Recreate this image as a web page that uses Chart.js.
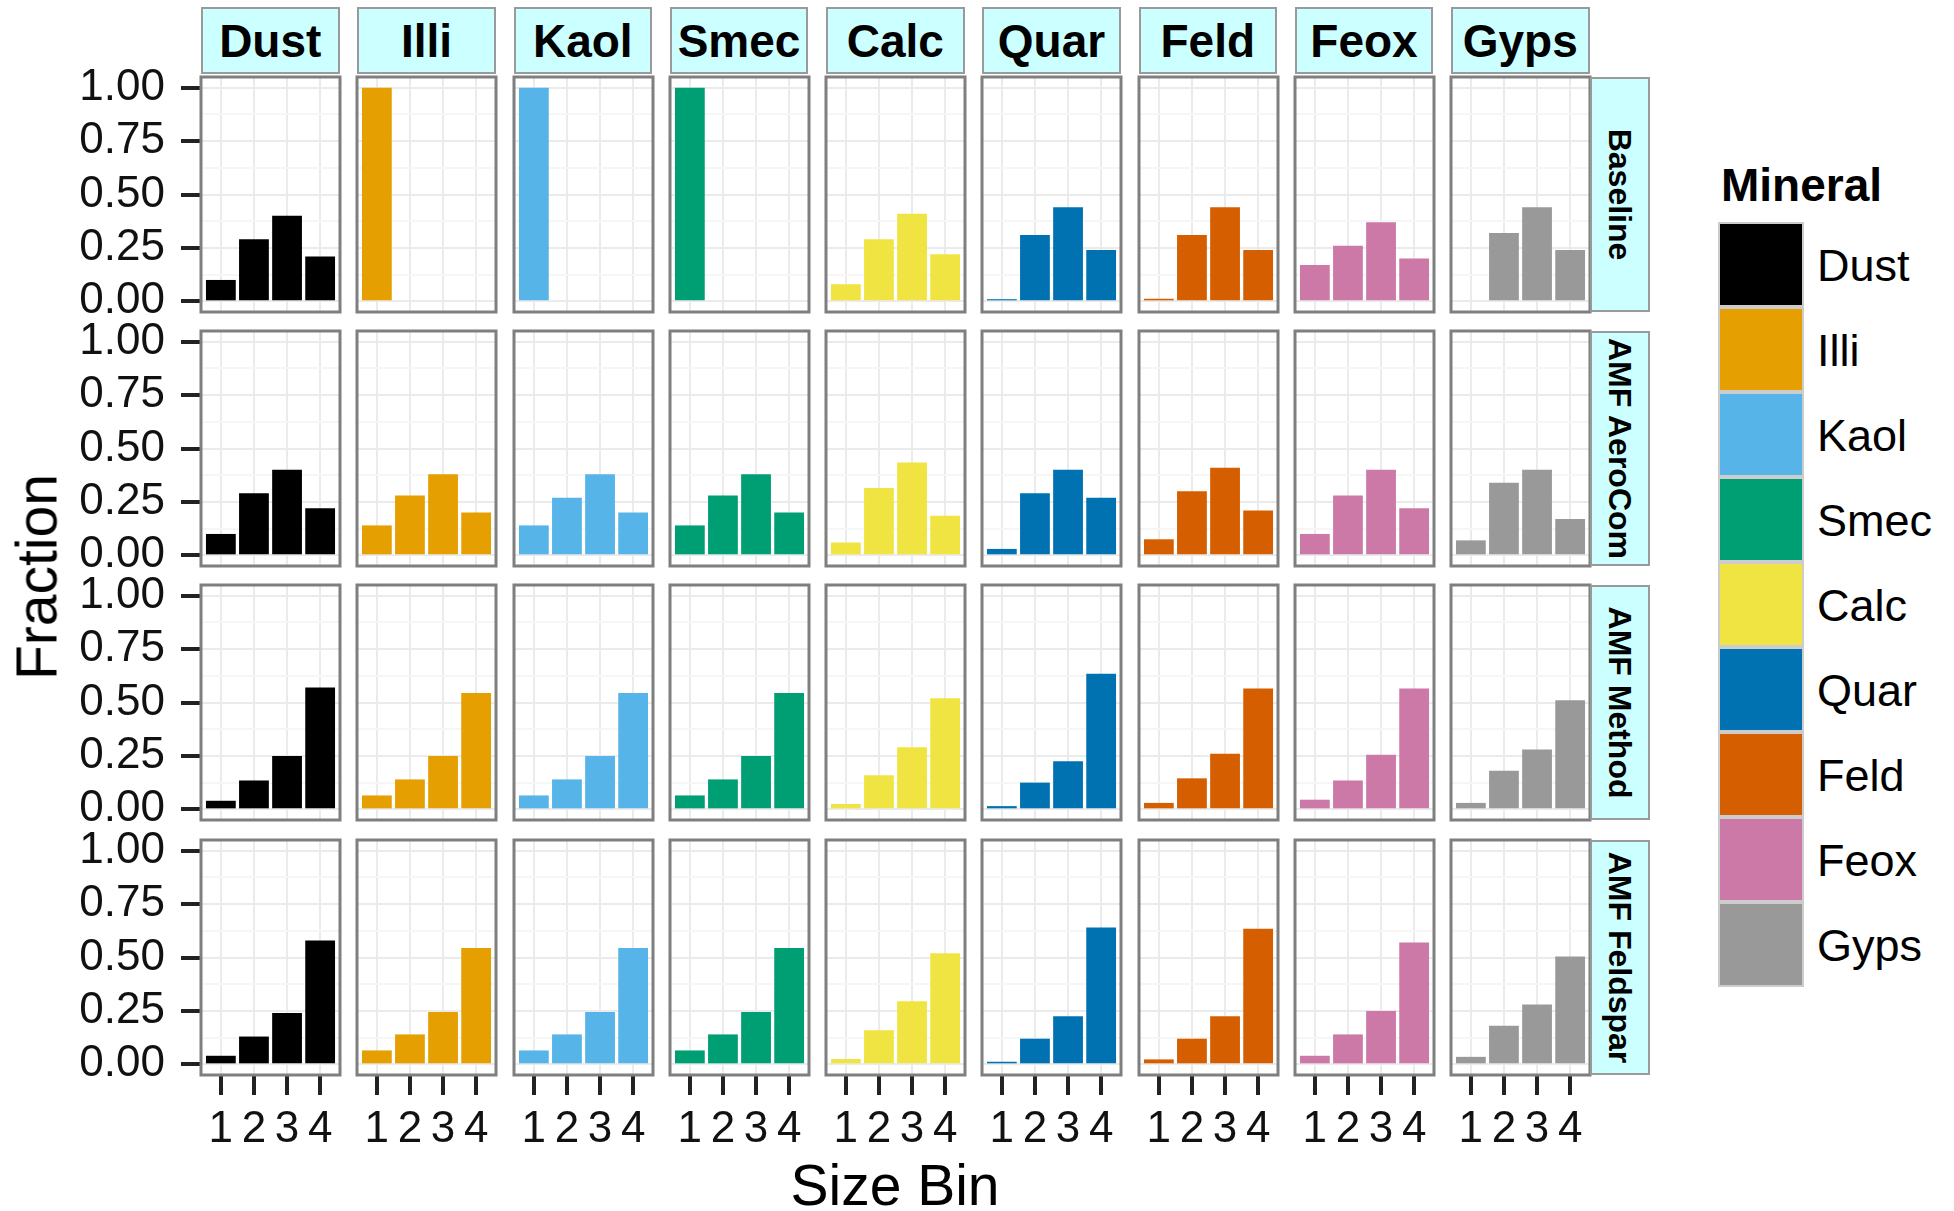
<!DOCTYPE html>
<html>
<head>
<meta charset="utf-8">
<script src="https://cdn.jsdelivr.net/npm/chart.js@4.4.0/dist/chart.umd.min.js"></script>
<style>
  body { margin: 0; background: #fff; font-family: "Liberation Sans", Arial, Helvetica, sans-serif; }
  #page { position: relative; width: 1954px; height: 1211px; overflow: hidden; }
  #page canvas { position: absolute; }
  .strip {
    position: absolute; background: #ccffff; border: 2px solid #9a9a9a; box-sizing: border-box;
    display: flex; align-items: center; justify-content: center; font-weight: bold; color: #000;
  }
  .strip.top { font-size: 46px; }
  .strip.side span { display: block; transform: rotate(90deg); white-space: nowrap; font-size: 32px; }
  .title { position: absolute; white-space: nowrap; line-height: 1; color: #000; transform: translate(-50%, -50%); }
  .key { position: absolute; box-sizing: border-box; border: 2px solid #cccccc; }
  .keylabel { position: absolute; font-size: 45px; line-height: 1; transform: translateY(-50%); white-space: nowrap; }
</style>
</head>
<body>
<div id="page"></div>
<script>
// --- DATA ---
const minerals = ['Dust', 'Illi', 'Kaol', 'Smec', 'Calc', 'Quar', 'Feld', 'Feox', 'Gyps'];
const mineralColors = ['#000000', '#E69F00', '#56B4E9', '#009E73', '#F0E442', '#0072B2', '#D55E00', '#CC79A7', '#999999'];
const scenarios = ['Baseline', 'AMF AeroCom', 'AMF Method', 'AMF Feldspar'];
const sizeBins = [1, 2, 3, 4];
const majorTicks = [0, 0.25, 0.5, 0.75, 1];
const minorTicks = [0.125, 0.375, 0.625, 0.875];

// fraction in each size bin, one row per mineral (order of `minerals`)
const baseline = [
  [0.10, 0.29, 0.40, 0.21],
  [1.00, 0.00, 0.00, 0.00],
  [1.00, 0.00, 0.00, 0.00],
  [1.00, 0.00, 0.00, 0.00],
  [0.08, 0.29, 0.41, 0.22],
  [0.01, 0.31, 0.44, 0.24],
  [0.012, 0.31, 0.44, 0.24],
  [0.17, 0.26, 0.37, 0.20],
  [0.00, 0.32, 0.44, 0.24]
];
const amfAeroCom = [
  [0.10, 0.29, 0.40, 0.22],
  [0.14, 0.28, 0.38, 0.20],
  [0.14, 0.27, 0.38, 0.20],
  [0.14, 0.28, 0.38, 0.20],
  [0.06, 0.315, 0.435, 0.185],
  [0.03, 0.29, 0.40, 0.27],
  [0.075, 0.30, 0.41, 0.21],
  [0.10, 0.28, 0.40, 0.22],
  [0.07, 0.34, 0.40, 0.17]
];
const amfMethod = [
  [0.04, 0.135, 0.25, 0.57],
  [0.065, 0.14, 0.25, 0.545],
  [0.065, 0.14, 0.25, 0.545],
  [0.065, 0.14, 0.25, 0.545],
  [0.025, 0.16, 0.29, 0.52],
  [0.015, 0.125, 0.225, 0.635],
  [0.03, 0.145, 0.26, 0.565],
  [0.045, 0.135, 0.255, 0.565],
  [0.03, 0.18, 0.28, 0.51]
];
const amfFeldspar = [
  [0.04, 0.13, 0.24, 0.58],
  [0.065, 0.14, 0.245, 0.545],
  [0.065, 0.14, 0.245, 0.545],
  [0.065, 0.14, 0.245, 0.545],
  [0.025, 0.16, 0.295, 0.52],
  [0.012, 0.12, 0.225, 0.64],
  [0.023, 0.12, 0.225, 0.635],
  [0.04, 0.14, 0.25, 0.57],
  [0.035, 0.18, 0.28, 0.505]
];
const scenarioData = [baseline, amfAeroCom, amfMethod, amfFeldspar];

// --- LAYOUT ---
const panelLeft0 = 201, panelPitchX = 156.25, panelW = 138.5;
const panelTop0 = 77, panelPitchY = 254.2, panelH = 235;
const pad = 50, yAxisW = 201, xAxisH = 92;
const fontFamily = '"Liberation Sans", Arial, Helvetica, sans-serif';

const page = document.getElementById('page');

// frame around each panel, drawn on top of grid and bars
const panelBorder = {
  id: 'panelBorder',
  afterDraw(chart) {
    const a = chart.chartArea;
    const ctx = chart.ctx;
    ctx.save();
    ctx.strokeStyle = '#7f7f7f';
    ctx.lineWidth = 3;
    ctx.strokeRect(a.left, a.top, a.right - a.left, a.bottom - a.top);
    ctx.restore();
  }
};

function addDiv(cls, style, html) {
  const d = document.createElement('div');
  d.className = cls;
  Object.assign(d.style, style);
  if (html !== undefined) d.innerHTML = html;
  page.appendChild(d);
  return d;
}

scenarios.forEach((scen, r) => {
  minerals.forEach((min, c) => {
    const isLeft = c === 0;
    const isBottom = r === scenarios.length - 1;
    const left = panelLeft0 + c * panelPitchX;
    const top = panelTop0 + r * panelPitchY;

    const canvas = document.createElement('canvas');
    const w = Math.round(panelW + 2 * pad + (isLeft ? yAxisW : 0));
    const h = Math.round(panelH + 2 * pad + (isBottom ? xAxisH - pad : 0));
    canvas.width = w;
    canvas.height = h;
    canvas.style.left = Math.round(left - pad - (isLeft ? yAxisW : 0)) + 'px';
    canvas.style.top = Math.round(top - pad) + 'px';
    canvas.style.width = w + 'px';
    canvas.style.height = h + 'px';
    page.appendChild(canvas);

    const vals = scenarioData[r][c];

    new Chart(canvas, {
      type: 'bar',
      data: {
        datasets: [{
          data: sizeBins.map((b, i) => ({ x: b, y: vals[i] })),
          backgroundColor: mineralColors[c],
          borderWidth: 0,
          barPercentage: 0.9,
          categoryPercentage: 1
        }]
      },
      options: {
        responsive: false,
        animation: false,
        devicePixelRatio: 1,
        layout: { padding: { left: pad, right: pad, top: pad, bottom: isBottom ? 0 : pad } },
        plugins: { legend: { display: false }, tooltip: { enabled: false } },
        scales: {
          x: {
            type: 'linear', min: 0.4, max: 4.6, offset: false,
            afterBuildTicks: s => { s.ticks = sizeBins.map(v => ({ value: v })); },
            afterFit: s => { s.height = isBottom ? xAxisH : 0; },
            border: { display: false },
            grid: { offset: false, color: '#ebebeb', lineWidth: 2, drawTicks: isBottom, tickLength: 20, tickWidth: 4, tickColor: '#222' },
            ticks: {
              display: isBottom, autoSkip: false, maxRotation: 0, padding: 8,
              color: '#111', font: { size: 44, family: fontFamily },
              callback: v => String(v)
            }
          },
          y: {
            type: 'linear', min: -0.05, max: 1.05,
            afterBuildTicks: s => {
              s.ticks = majorTicks.concat(minorTicks).sort((a, b) => a - b).map(v => ({ value: v }));
            },
            afterFit: s => { s.width = isLeft ? yAxisW : 0; },
            border: { display: false },
            grid: {
              lineWidth: 2,
              color: ctx => majorTicks.includes(ctx.tick.value) ? '#ebebeb' : '#f6f6f6',
              drawTicks: isLeft, tickLength: 20, tickWidth: 4,
              tickColor: ctx => majorTicks.includes(ctx.tick.value) ? '#222' : 'rgba(0,0,0,0)'
            },
            ticks: {
              display: isLeft, autoSkip: false, padding: 16,
              color: '#111', font: { size: 44, family: fontFamily },
              callback: v => majorTicks.includes(v) ? v.toFixed(2) : ''
            }
          }
        }
      },
      plugins: [panelBorder]
    });

    if (r === 0) {
      addDiv('strip top', { left: left + 'px', top: '7px', width: panelW + 'px', height: '67px' }, min);
    }
  });

  const stripLeft = panelLeft0 + 8 * panelPitchX + panelW;
  addDiv('strip side', {
    left: stripLeft + 'px', top: (panelTop0 + r * panelPitchY) + 'px', width: '60px', height: panelH + 'px'
  }, '<span>' + scen + '</span>');
});

// axis titles
addDiv('title', { left: '37px', top: '577px', fontSize: '57px', transform: 'translate(-50%, -50%) rotate(-90deg)' }, 'Fraction');
addDiv('title', { left: '895px', top: '1185px', fontSize: '57px' }, 'Size Bin');

// legend
addDiv('title', { left: '1721px', top: '185px', fontSize: '46px', fontWeight: 'bold', transform: 'translateY(-50%)' }, 'Mineral');
minerals.forEach((m, k) => {
  const y = 222 + k * 85;
  addDiv('key', { left: '1718px', top: y + 'px', width: '86px', height: '85px', background: mineralColors[k] });
  addDiv('keylabel', { left: '1817px', top: (y + 42.5) + 'px' }, m);
});
</script>
</body>
</html>
